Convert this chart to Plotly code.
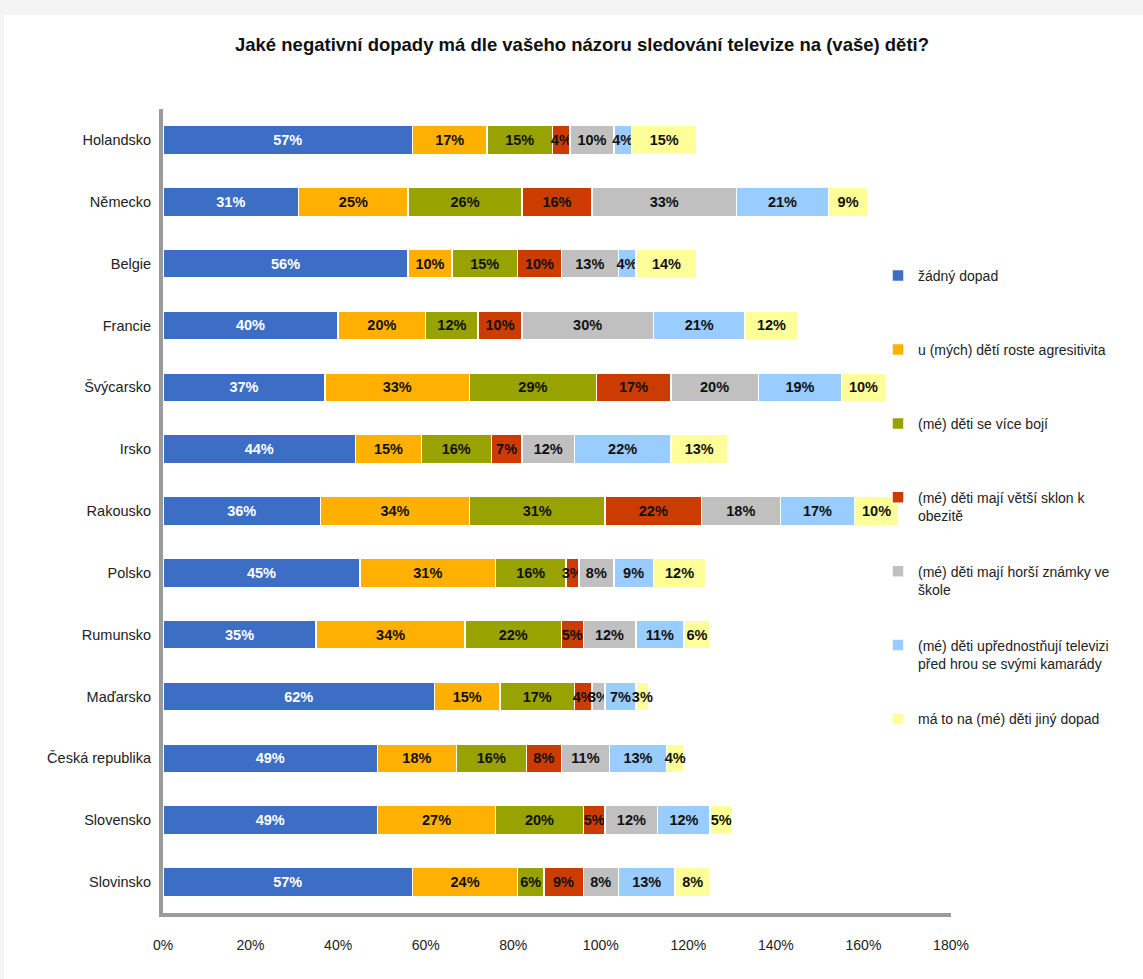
import plotly.graph_objects as go

# Survey results per country (percent of respondents)
countries = ["Holandsko", "Německo", "Belgie", "Francie", "Švýcarsko", "Irsko",
             "Rakousko", "Polsko", "Rumunsko", "Maďarsko", "Česká republika",
             "Slovensko", "Slovinsko"]

series_names = [
    "žádný dopad",
    "u (mých) dětí roste agresitivita",
    "(mé) děti se více bojí",
    "(mé) děti mají větší sklon k<br>obezitě",
    "(mé) děti mají horší známky ve<br>škole",
    "(mé) děti upřednostňují televizi<br>před hrou se svými kamarády",
    "má to na (mé) děti jiný dopad",
]

no_effect      = [57, 31, 56, 40, 37, 44, 36, 45, 35, 62, 49, 49, 57]
aggression     = [17, 25, 10, 20, 33, 15, 34, 31, 34, 15, 18, 27, 24]
fear           = [15, 26, 15, 12, 29, 16, 31, 16, 22, 17, 16, 20, 6]
obesity        = [4, 16, 10, 10, 17, 7, 22, 3, 5, 4, 8, 5, 9]
worse_grades   = [10, 33, 13, 30, 20, 12, 18, 8, 12, 3, 11, 12, 8]
prefer_tv      = [4, 21, 4, 21, 19, 22, 17, 9, 11, 7, 13, 12, 13]
other_effect   = [15, 9, 14, 12, 10, 13, 10, 12, 6, 3, 4, 5, 8]

series_values = [no_effect, aggression, fear, obesity, worse_grades, prefer_tv, other_effect]
colors = ["#3D6EC6", "#FFB000", "#98A200", "#CC3C00", "#C0C0C0", "#99CCFF", "#FFFF99"]
label_colors = ["#FFFFFF", "#111111", "#111111", "#111111", "#111111", "#111111", "#111111"]

x_ticks = [0, 20, 40, 60, 80, 100, 120, 140, 160, 180]

FONT = "Liberation Sans, Arial, sans-serif"

W, H = 1143, 979
ML, MR, MT, MB = 163, 192, 109, 66

fig = go.Figure()
for i, (name, vals) in enumerate(zip(series_names, series_values)):
    legend_name = name if "<br>" in name else name + "<br>\u00a0"
    fig.add_trace(go.Bar(
        y=countries,
        x=vals,
        name=legend_name,
        orientation="h",
        legendgroup=f"g{i}",
        marker=dict(color=colors[i], line=dict(color="#FFFFFF", width=1.5)),
        text=[f"{v}%" for v in vals],
        texttemplate="<b>%{text}</b>",
        textposition="inside",
        insidetextanchor="middle",
        textangle=0,
        constraintext="none",
        textfont=dict(family=FONT, size=14.5, color=label_colors[i]),
        hoverinfo="skip",
    ))

def px_x(px):
    return (px - ML) / (W - ML - MR)

def px_y(py):
    return (H - MB - py) / (H - MT - MB)

# light page shadow along the top and left edges
shapes = [
    dict(type="rect", xref="paper", yref="paper", layer="below",
         x0=px_x(0), x1=px_x(W), y0=px_y(0), y1=px_y(15),
         fillcolor="#F4F4F4", line=dict(width=0)),
    dict(type="rect", xref="paper", yref="paper", layer="below",
         x0=px_x(0), x1=px_x(4), y0=px_y(0), y1=px_y(H),
         fillcolor="#F4F4F4", line=dict(width=0)),
]

fig.update_layout(
    width=W, height=H,
    margin=dict(l=ML, r=MR, t=MT, b=MB),
    barmode="stack",
    bargap=0.53,
    paper_bgcolor="#FFFFFF",
    plot_bgcolor="#FFFFFF",
    font=dict(family=FONT, size=14, color="#222222"),
    title=dict(
        text="<b>Jaké negativní dopady má dle vašeho názoru sledování televize na (vaše) děti?</b>",
        x=582 / W, xanchor="center", y=1 - 45 / H, yanchor="middle",
        font=dict(family=FONT, size=18.5, color="#111111"),
    ),
    xaxis=dict(
        range=[0, 180],
        tickvals=x_ticks,
        ticktext=[f"{v}%" for v in x_ticks],
        showgrid=False, zeroline=False,
        showline=True, linecolor="#9B9B9B", linewidth=4,
        ticks="", ticklabelstandoff=16,
        tickfont=dict(family=FONT, size=14, color="#222222"),
        fixedrange=True,
    ),
    yaxis=dict(
        categoryorder="array", categoryarray=countries,
        autorange="reversed",
        showgrid=False, zeroline=False,
        showline=True, linecolor="#9B9B9B", linewidth=4,
        ticks="", ticklabelstandoff=5,
        tickfont=dict(family=FONT, size=14.5, color="#222222"),
        fixedrange=True,
    ),
    legend=dict(
        x=px_x(878), xanchor="left",
        y=px_y(260), yanchor="top",
        traceorder="grouped",
        tracegroupgap=34.5,
        valign="top",
        font=dict(family=FONT, size=14, color="#222222"),
        bgcolor="rgba(0,0,0,0)",
    ),
    shapes=shapes,
    showlegend=True,
)

fig.write_html("out.html")
